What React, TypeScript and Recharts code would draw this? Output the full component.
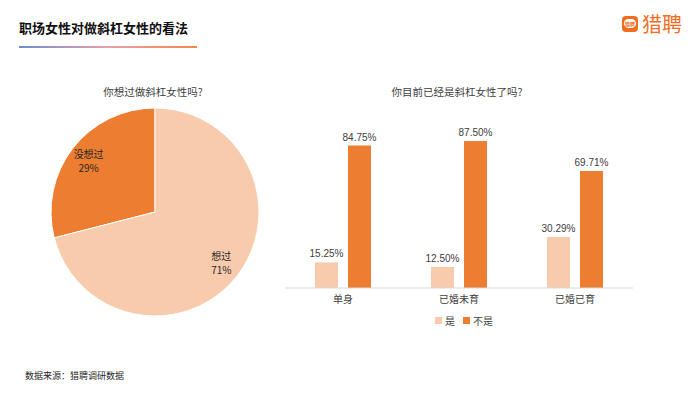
import React from 'react';
import { PieChart, Pie, Cell, BarChart, Bar, XAxis, YAxis, LabelList } from 'recharts';

const pieNames = ['没想过', '想过'];
const pieValues = [29, 71];
const pieColors = ['#ED7D31', '#F8CBAD'];

const groups = ['单身', '已婚未育', '已婚已育'];
const yesValues = [15.25, 12.5, 30.29];
const noValues = [84.75, 87.5, 69.71];

const FONT = '"Noto Sans CJK SC", "Noto Sans", sans-serif';
const DARK = '#ED7D31';
const LIGHT = '#F8CBAD';

const pieData = pieNames.map((name, i) => ({ name, value: pieValues[i] }));
const barData = groups.map((g, i) => ({ group: g, yes: yesValues[i], no: noValues[i] }));

const RADIAN = Math.PI / 180;

function PieLabel(props: any) {
  const { cx, cy, midAngle, name, value } = props;
  const r = 84;
  const x = cx + r * Math.cos(-midAngle * RADIAN);
  const y = cy + r * Math.sin(-midAngle * RADIAN);
  return (
    <g>
      <text x={x} y={y - 3} textAnchor="middle" fontSize={10} fill="#262626" fontFamily={FONT}>{name}</text>
      <text x={x} y={y + 11} textAnchor="middle" fontSize={10} fill="#262626" fontFamily={FONT}>{value}%</text>
    </g>
  );
}

export default function App() {
  return (
    <div style={{ position: 'absolute', left: 0, top: 0, width: 700, height: 393, background: '#fff', fontFamily: FONT, overflow: 'hidden' }}>
      <div style={{ position: 'absolute', left: 19, top: 18, fontSize: 13, fontWeight: 700, color: '#111' }}>
        职场女性对做斜杠女性的看法
      </div>
      <div style={{ position: 'absolute', left: 19, top: 46, width: 178, height: 2, background: 'linear-gradient(to right, #6C8FD3, #E9A0A8, #F5874A)' }} />

      <div style={{ position: 'absolute', left: 622, top: 16, width: 16, height: 16, borderRadius: 4, background: '#F26E1F' }}>
        <div style={{ position: 'absolute', left: 2, top: 3, width: 12, height: 9, borderRadius: 5, background: '#fff', color: '#F26E1F', fontSize: 5, lineHeight: '9px', textAlign: 'center', fontWeight: 700 }}>猎聘</div>
      </div>
      <div style={{ position: 'absolute', left: 642, top: 12, fontSize: 20, color: '#F26E1F', lineHeight: '24px' }}>猎聘</div>

      <div style={{ position: 'absolute', left: 103, top: 84, width: 100, textAlign: 'center', fontSize: 10.5, color: '#404040', whiteSpace: 'nowrap' }}>
        你想过做斜杠女性吗?
      </div>
      <div style={{ position: 'absolute', left: 357, top: 84, width: 200, textAlign: 'center', fontSize: 10.5, color: '#404040', whiteSpace: 'nowrap' }}>
        你目前已经是斜杠女性了吗?
      </div>

      <div style={{ position: 'absolute', left: 0, top: 0 }}>
        <PieChart width={300} height={393} margin={{ top: 0, right: 0, bottom: 0, left: 0 }}>
          <Pie
            data={pieData}
            dataKey="value"
            nameKey="name"
            cx={155}
            cy={212}
            outerRadius={104}
            startAngle={90}
            endAngle={450}
            stroke="#fff"
            strokeWidth={1}
            label={PieLabel}
            labelLine={false}
            isAnimationActive={false}
          >
            {pieData.map((d, i) => (
              <Cell key={d.name} fill={pieColors[i]} />
            ))}
          </Pie>
        </PieChart>
      </div>

      <div style={{ position: 'absolute', left: 0, top: 0 }}>
        <BarChart
          width={700}
          height={393}
          data={barData}
          margin={{ top: 120, right: 67, bottom: 75, left: 285 }}
          barSize={23}
          barGap={10}
        >
          <XAxis
            dataKey="group"
            axisLine={{ stroke: '#D9D9D9' }}
            tickLine={false}
            tick={{ fontSize: 10, fill: '#404040', fontFamily: FONT }}
            height={30}
          />
          <YAxis hide domain={[0, 100]} />
          <Bar dataKey="yes" fill={LIGHT} isAnimationActive={false}>
            <LabelList dataKey="yes" position="top" formatter={(v: any) => Number(v).toFixed(2) + '%'} fontSize={10} fill="#404040" fontFamily="Arial, Liberation Sans, sans-serif" />
          </Bar>
          <Bar dataKey="no" fill={DARK} isAnimationActive={false}>
            <LabelList dataKey="no" position="top" formatter={(v: any) => Number(v).toFixed(2) + '%'} fontSize={10} fill="#404040" fontFamily="Arial, Liberation Sans, sans-serif" />
          </Bar>
        </BarChart>
      </div>

      <div style={{ position: 'absolute', left: 435, top: 313, display: 'flex', alignItems: 'center', fontSize: 10, color: '#404040' }}>
        <span style={{ width: 7, height: 7, background: LIGHT, display: 'inline-block', marginRight: 3 }} />
        <span style={{ marginRight: 8 }}>是</span>
        <span style={{ width: 7, height: 7, background: DARK, display: 'inline-block', marginRight: 3 }} />
        <span>不是</span>
      </div>

      <div style={{ position: 'absolute', left: 25, top: 369, fontSize: 9, color: '#262626' }}>
        数据来源：猎聘调研数据
      </div>
    </div>
  );
}
